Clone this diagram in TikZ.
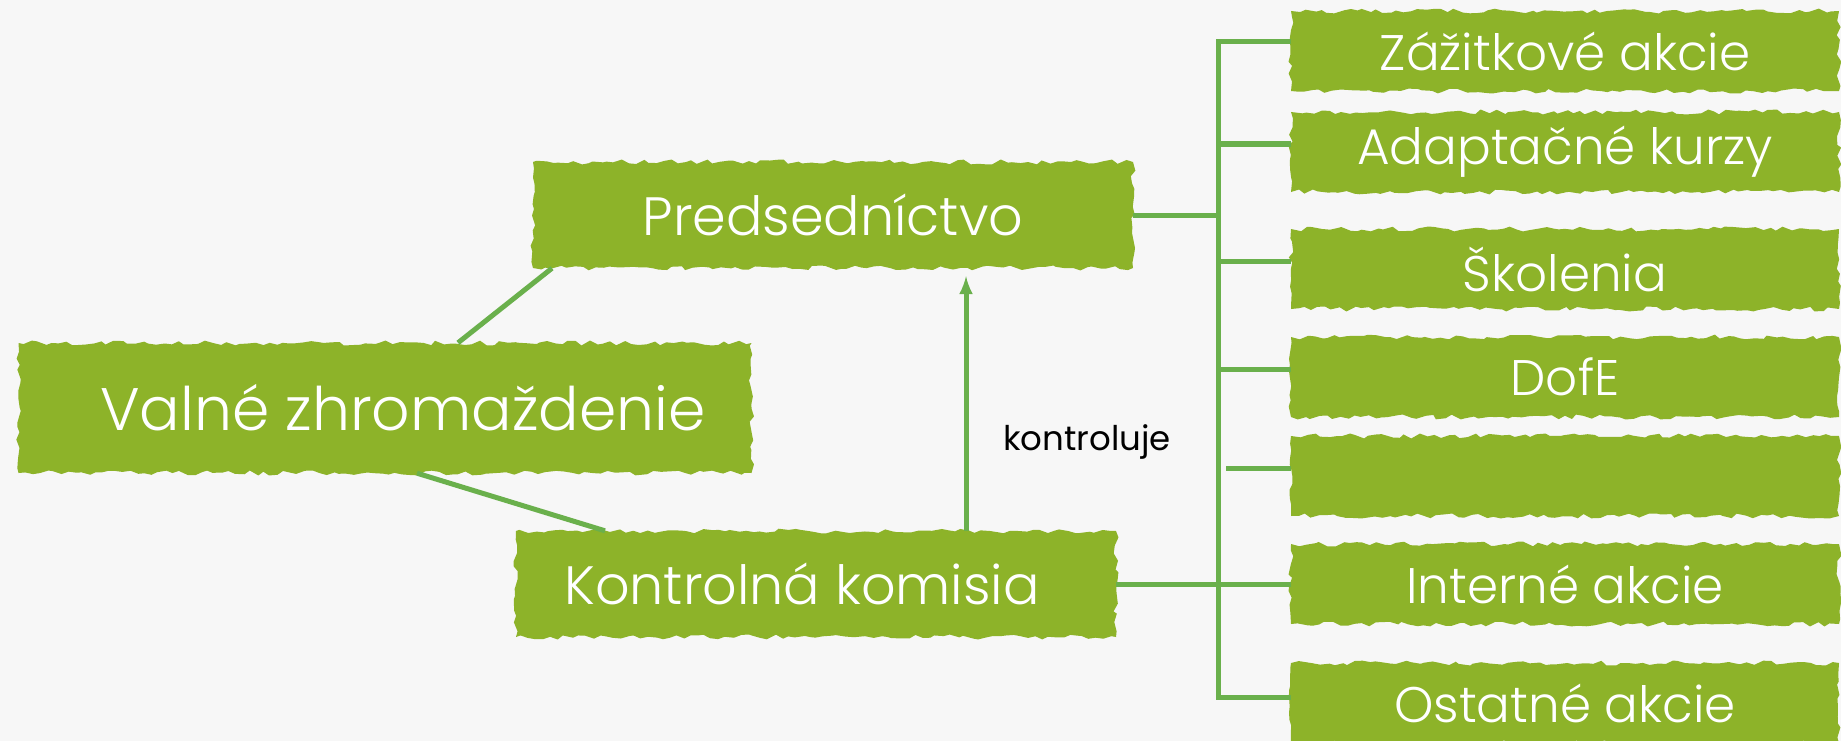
\documentclass[tikz,border=0pt]{standalone}
\usepackage{fontspec}
\setmainfont{Poppins}[UprightFont=* Light]
\newfontfamily\labelfont{Poppins}
\usetikzlibrary{decorations.pathmorphing}
\usetikzlibrary{arrows}

\definecolor{brushgreen}{RGB}{141,179,41}
\definecolor{linegreen}{RGB}{106,176,76}
\definecolor{paper}{RGB}{247,247,247}

\tikzset{
  brush/.style={fill=brushgreen, text=white, inner sep=0pt,
    decorate, decoration={random steps, segment length=7pt, amplitude=2.5pt}},
  bigbox/.style={brush, minimum width=600pt, minimum height=106pt,
    font=\fontsize{54}{60}\selectfont},
  sidebox/.style={brush, minimum width=548pt, minimum height=80pt,
    font=\fontsize{50}{54}\selectfont},
  link/.style={linegreen, line width=5pt},
}

\begin{document}
\begin{tikzpicture}[x=1pt, y=-1pt]
\pgfmathsetseed{7}
\fill[paper] (0,0) rectangle (1841,741);
\useasboundingbox (0,0) rectangle (1841,741);

\node[bigbox, minimum width=733pt, minimum height=130pt,
  font=\fontsize{60}{66}\selectfont] (valne) at (385,408)
  {\hspace*{36pt}\raisebox{-7pt}{Valné zhromaždenie}};
\node[bigbox] (pred) at (833,215) {Predsedníctvo};
\node[bigbox] (kontr) at (816,584) {Kontrolná komisia\hspace*{28pt}};

\node[sidebox] (zazit) at (1565,51) {Zážitkové akcie};
\node[sidebox] (adapt) at (1565,152) {Adaptačné kurzy};
\node[sidebox] (skol) at (1565,269) {Školenia};
\node[sidebox] (dofe) at (1565,377) {DofE};
\node[sidebox] (prazdne) at (1565,476) {};
\node[sidebox] (interne) at (1565,584) {Interné akcie};
\node[sidebox] (ostat) at (1565,703) {Ostatné akcie};

\coordinate (kmen) at (1218,0);
\coordinate (ctrl) at (966,0);

\draw[link] ([xshift=73pt]valne.north) -- ([xshift=-281pt]pred.south);
\draw[link] ([xshift=32pt]valne.south) -- ([xshift=-211pt]kontr.north);

\draw[link] ([yshift=9pt]zazit.west) -- ([yshift=9pt]kmen |- zazit.west)
  -- ([yshift=6pt]kmen |- ostat.west) -- ([yshift=6pt]ostat.west);
\foreach \n in {adapt, skol, dofe}
  \draw[link] ([yshift=8pt]kmen |- \n.west) -- ([yshift=8pt]\n.west);
\draw[link] ([xshift=8pt, yshift=8pt]kmen |- prazdne.west) -- ([yshift=8pt]prazdne.west);
\draw[link] (pred.east) -- (kmen |- pred.east);
\draw[link] (kontr.east) -- (interne.west);

\draw[link, ->, >=latex, shorten >=8pt] (ctrl |- kontr.north) -- (ctrl |- pred.south);
\node[font=\labelfont\fontsize{34}{38}\selectfont, text=black] (kontroluje) at (1087,442) {kontroluje};
\end{tikzpicture}
\end{document}
